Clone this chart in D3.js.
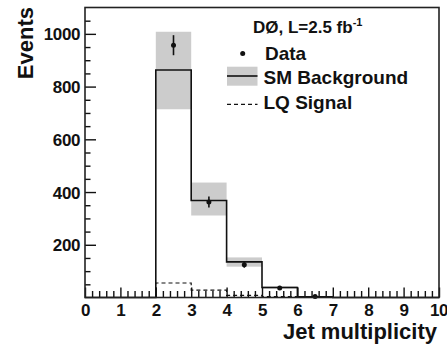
<!DOCTYPE html>
<html><head><meta charset="utf-8">
<script src="https://cdn.jsdelivr.net/npm/d3@7"></script>
<style>html,body{margin:0;padding:0;background:#fff;} svg{display:block;font-family:"Liberation Sans",Arial,sans-serif;}</style>
</head><body>
<svg id="c" width="447" height="347"></svg>
<script>
// Data (jet multiplicity bins, lower edges)
const binEdges = [0,1,2,3,4,5,6,7,8,9,10];
const smBackground = [0,0,863,368,135,38,3,0,0,0];
const smBandLow  = [0,0,714,311,117,33,2,0,0,0];
const smBandHigh = [0,0,1008,436,152,43,4,0,0,0];
const lqSignal = [0,0,55,28,8,3,1,0,0,0];
const dataX = [2.5,3.5,4.5,5.5,6.5];
const dataY = [957,362,124,36,4];
const dataErr = [38,21,11,6,2];
const xTicks = [0,1,2,3,4,5,6,7,8,9,10];
const yTicks = [200,400,600,800,1000];

const svg = d3.select("#c");
const L=85,R=439,T=7.5,B=297.5;
const x = d3.scaleLinear().domain([0,10]).range([L,R]);
const y = d3.scaleLinear().domain([0,1100]).range([B,T]);
const ink = "#111";

// uncertainty band
svg.append("g").selectAll("rect").data(smBandHigh.map((h,i)=>({i,h,l:smBandLow[i]})).filter(d=>d.h>0))
  .enter().append("rect")
  .attr("x",d=>x(binEdges[d.i])).attr("width",d=>x(binEdges[d.i+1])-x(binEdges[d.i]))
  .attr("y",d=>y(d.h)).attr("height",d=>y(d.l)-y(d.h))
  .attr("fill","#cccccc");

function stepPts(vals){
  const pts=[];
  vals.forEach((v,i)=>{pts.push([x(binEdges[i]),y(v)]);pts.push([x(binEdges[i+1]),y(v)]);});
  return pts;
}
const line = d3.line();
svg.append("path").attr("d",line(stepPts(smBackground))).attr("fill","none").attr("stroke",ink).attr("stroke-width",1.6);
svg.append("path").attr("d",line(stepPts(lqSignal))).attr("fill","none").attr("stroke",ink).attr("stroke-width",1.2).attr("stroke-dasharray","4,3");

// data points
const dg = svg.append("g");
dataX.forEach((xv,i)=>{
  dg.append("line").attr("x1",x(xv)).attr("x2",x(xv)).attr("y1",y(dataY[i]+dataErr[i])).attr("y2",y(Math.max(0,dataY[i]-dataErr[i]))).attr("stroke",ink).attr("stroke-width",1.6);
  dg.append("circle").attr("cx",x(xv)).attr("cy",y(dataY[i])).attr("r",2.5).attr("fill",ink);
});

// axes
const xMinor = d3.range(0,10.001,0.2).filter(v=>Math.abs(v-Math.round(v))>0.01);
const yMinor = d3.range(50,1100,50).filter(v=>v%200!==0);
const axX = svg.append("g").attr("transform",`translate(0,${B})`)
  .call(d3.axisBottom(x).tickValues(xTicks).tickFormat(d3.format("d")).tickSizeInner(-10).tickSizeOuter(0).tickPadding(6));
svg.append("g").attr("transform",`translate(0,${B})`)
  .call(d3.axisBottom(x).tickValues(xMinor).tickFormat("").tickSizeInner(-6.5).tickSizeOuter(0));
const axY = svg.append("g").attr("transform",`translate(${L},0)`)
  .call(d3.axisLeft(y).tickValues(yTicks).tickFormat(d3.format("d")).tickSizeInner(-11).tickSizeOuter(0).tickPadding(5));
svg.append("g").attr("transform",`translate(${L},0)`)
  .call(d3.axisLeft(y).tickValues(yMinor).tickFormat("").tickSizeInner(-5.5).tickSizeOuter(0));
svg.selectAll(".domain").remove();
svg.selectAll(".tick line").attr("stroke",ink).attr("stroke-width",1.4);
svg.selectAll(".tick text").attr("fill",ink).style("font-size","17px").style("font-weight","bold").style("letter-spacing","-0.4px").style("font-family","'Liberation Sans',Arial,sans-serif");
axY.selectAll(".tick text").attr("dy","0.36em");
axX.selectAll(".tick text").filter(d=>d===10).attr("text-anchor","end").attr("dx","8.5");

// frame
svg.append("rect").attr("x",L).attr("y",T).attr("width",R-L).attr("height",B-T).attr("fill","none").attr("stroke","#222").attr("stroke-width",1.6);

// axis titles
svg.append("text").attr("x",R-2).attr("y",339).attr("text-anchor","end").style("font-size","22px").style("font-weight","bold").attr("fill",ink).text("Jet multiplicity");
svg.append("text").attr("transform","translate(33,7) rotate(-90)").attr("text-anchor","end").style("font-size","22px").style("font-weight","bold").attr("fill",ink).text("Events");

// legend
const lg = svg.append("g");
const title = lg.append("text").attr("x",253).attr("y",33).style("font-size","17px").style("font-weight","bold").attr("fill",ink);
title.append("tspan").text("DØ, L=2.5 fb");
title.append("tspan").attr("dy",-7).style("font-size","11px").text("-1");
lg.append("circle").attr("cx",242.7).attr("cy",53.5).attr("r",2.5).attr("fill",ink);
lg.append("text").attr("x",265).attr("y",60).style("font-size","19px").style("font-weight","bold").attr("fill",ink).text("Data");
lg.append("rect").attr("x",227).attr("y",66.7).attr("width",30.5).attr("height",19).attr("fill","#cccccc");
lg.append("line").attr("x1",227).attr("x2",257.5).attr("y1",76).attr("y2",76).attr("stroke",ink).attr("stroke-width",1.6);
lg.append("text").attr("x",263.5).attr("y",83.5).style("font-size","19px").style("font-weight","bold").attr("fill",ink).text("SM Background");
lg.append("line").attr("x1",227).attr("x2",257.5).attr("y1",104.3).attr("y2",104.3).attr("stroke",ink).attr("stroke-width",1.2).attr("stroke-dasharray","4,3");
lg.append("text").attr("x",263.5).attr("y",108.5).style("font-size","19px").style("font-weight","bold").attr("fill",ink).text("LQ Signal");
</script>
</body></html>
